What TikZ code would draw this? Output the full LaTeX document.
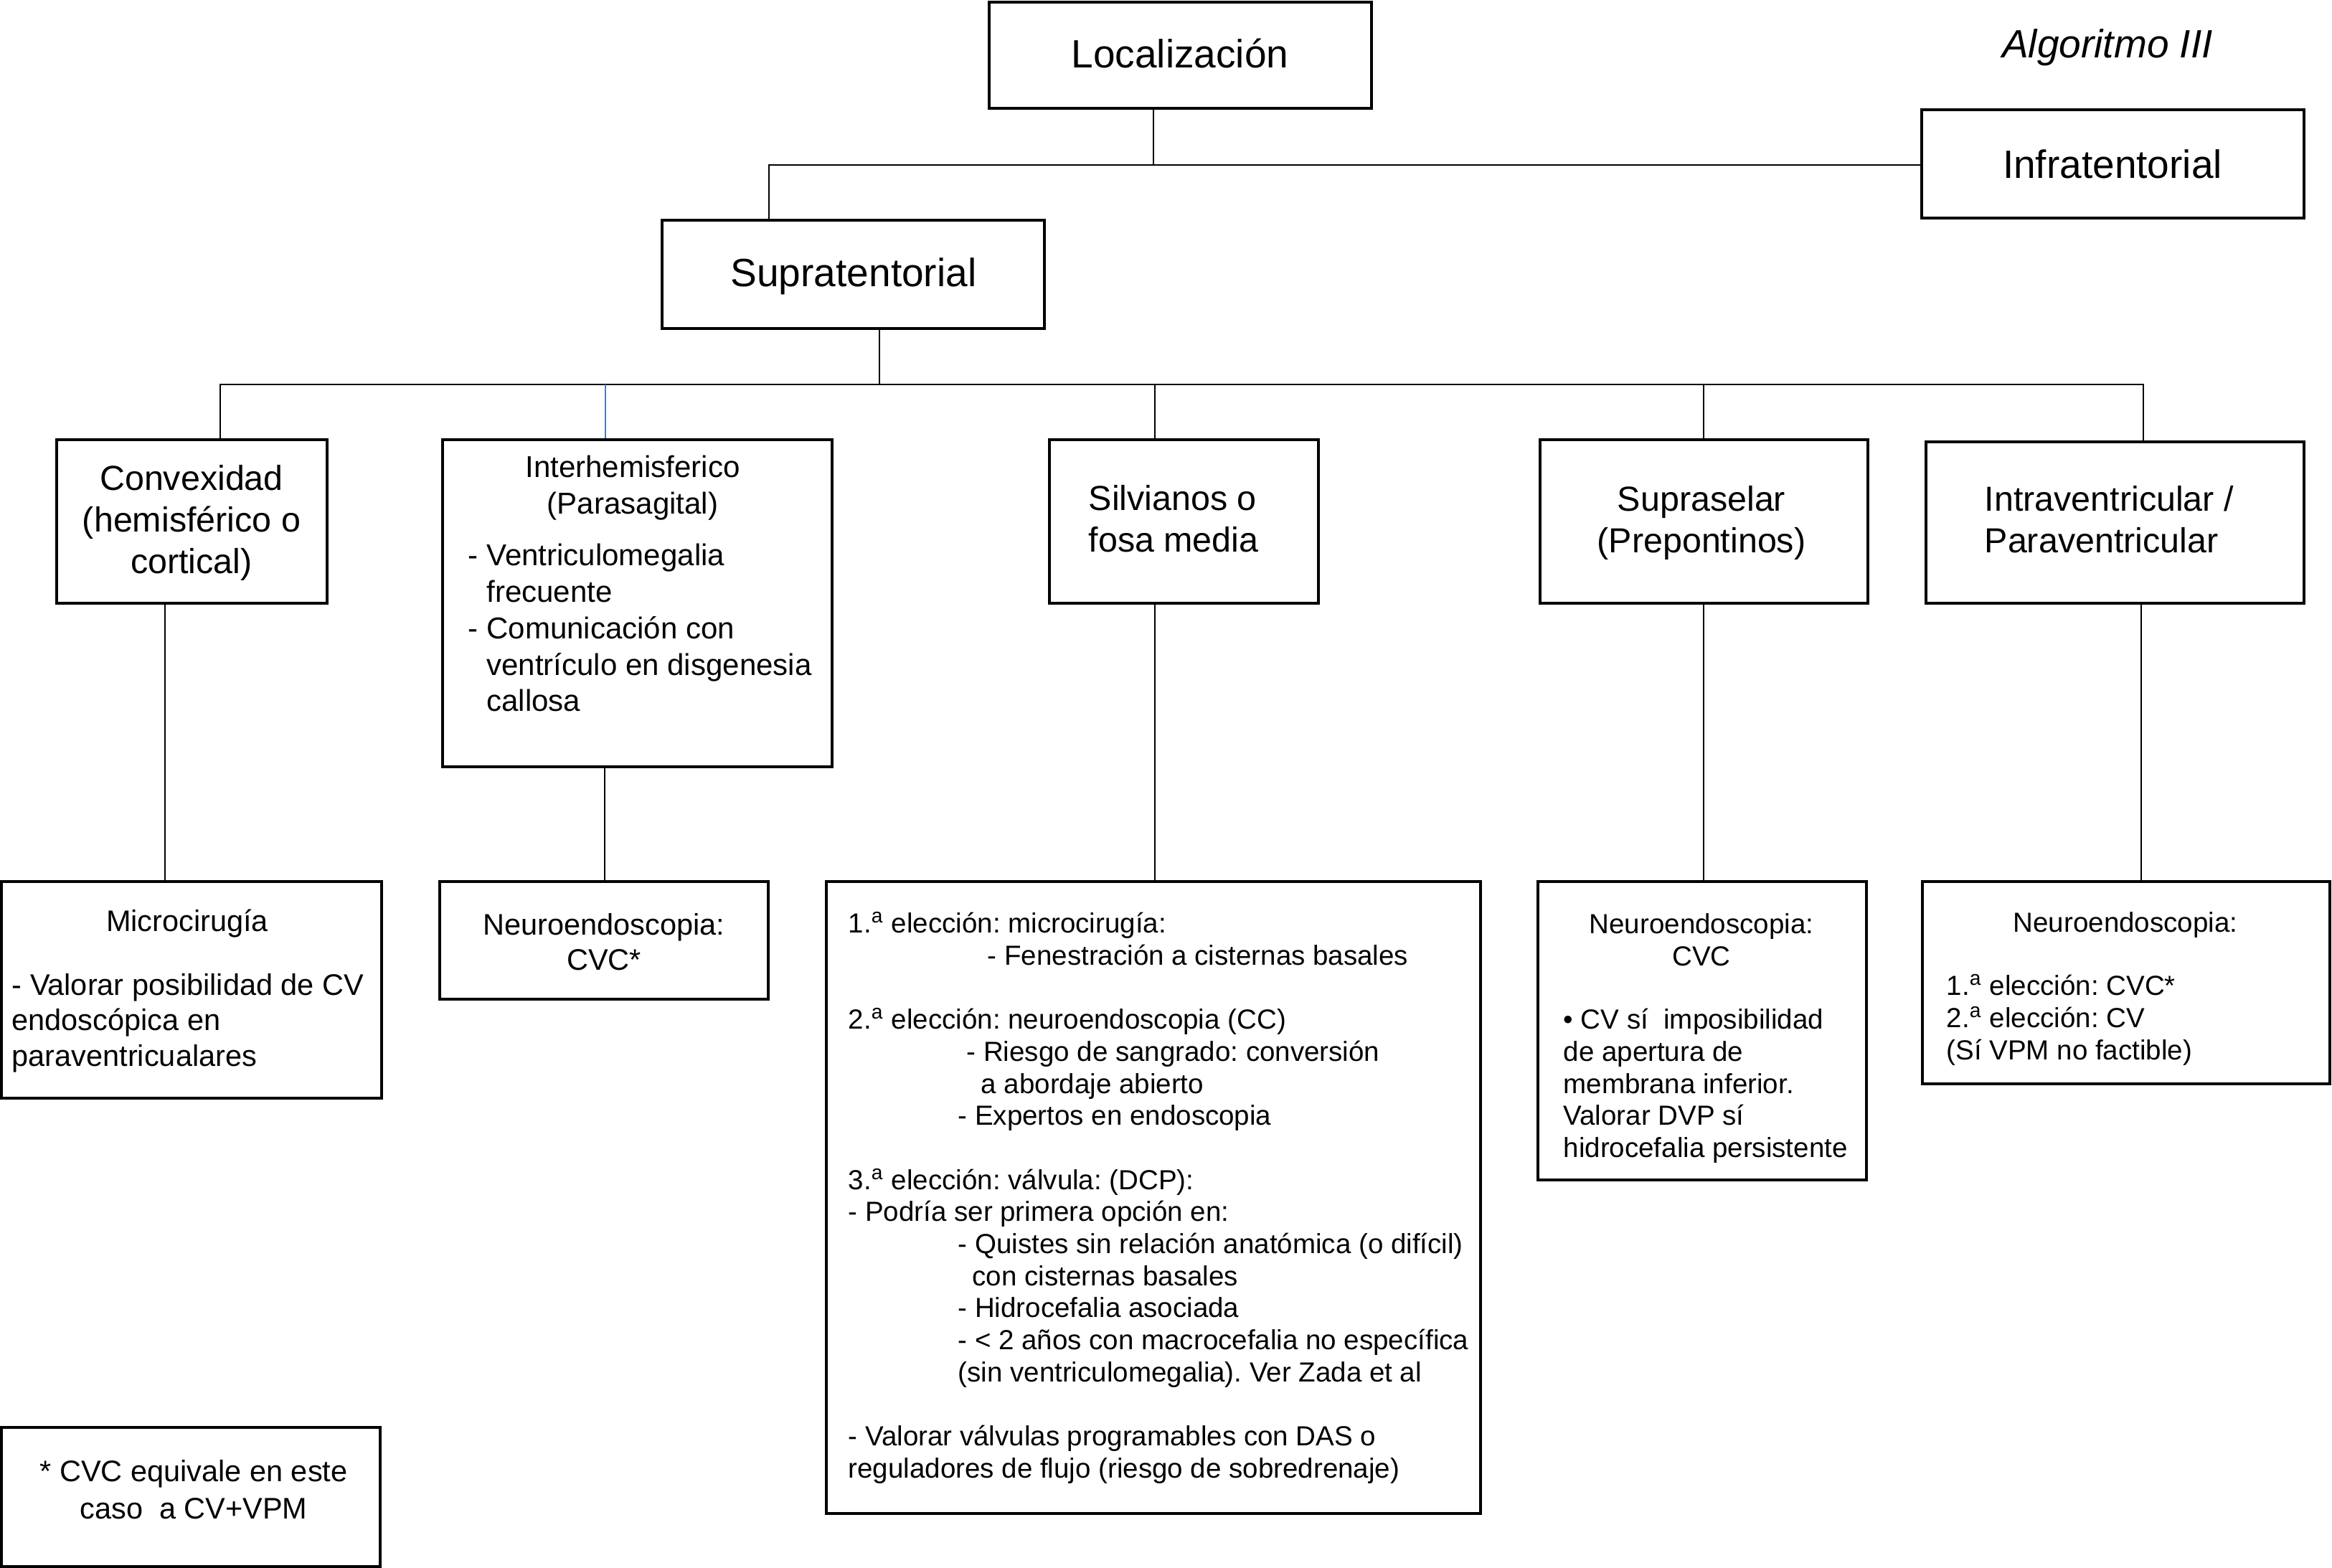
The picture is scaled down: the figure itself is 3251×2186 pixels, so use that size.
\documentclass[tikz,border=0pt]{standalone}
\usepackage{fontspec}
\setmainfont{Liberation Sans}
\usetikzlibrary{fit}
\definecolor{linkblue}{RGB}{74,126,187}
\tikzset{
  box/.style={draw=black, line width=1pt, inner sep=0pt},
  conn/.style={draw=black, line width=0.8pt},
  bconn/.style={draw=linkblue, line width=0.6pt},
  txt/.style={inner sep=0pt},
  fA/.style={font=\fontsize{15.65}{18.8}\selectfont},
  fB/.style={font=\fontsize{13.77}{16.5}\selectfont},
  fC/.style={font=\fontsize{11.95}{14.5}\selectfont},
  fD/.style={font=\fontsize{11.8}{14.1}\selectfont},
  fE/.style={font=\fontsize{10.95}{12.7}\selectfont},
}
\begin{document}
\frenchspacing
\begin{tikzpicture}[x=0.01cm,y=-0.01cm]
\useasboundingbox (0,0) rectangle (3251,2186);

% ---- top level
\node[box, fit={(1379,3) (1912,151)}] (loc) {};
\node[txt, fA] (locT) at (1645,75) {Localización};
\node[txt, font=\fontsize{15.65}{18.8}\selectfont\itshape] (algo) at (2938,66) {Algoritmo III};
\node[box, fit={(2679,153) (3212,304)}] (infra) {};
\node[txt, fA] (infraT) at (2945,229) {Infratentorial};
\node[box, fit={(923,307) (1456,458)}] (supt) {};
\node[txt, fA] (suptT) at (1190,385) {Supratentorial};

\coordinate (j1) at (1608,230);
\coordinate (j0) at (1072,230);
\draw[conn] (loc.south -| j1) -- (j1);
\draw[conn] (supt.north -| j0) -- (j0) -- (j0 -| infra.west);

% ---- second level boxes
\node[box, fit={(79,613) (456,841)}] (conv) {};
\node[box, fit={(617,613) (1160,1069)}] (inter) {};
\node[box, fit={(1463,613) (1838,841)}] (silv) {};
\node[box, fit={(2147,613) (2604,841)}] (supl) {};
\node[box, fit={(2685,616) (3212,841)}] (intrav) {};

\node[txt, fB, align=center] (convT) at (267,729) {Convexidad\\(hemisférico o\\cortical)};
\node[txt, fC, align=center] (interT) at (882,680) {Interhemisferico\\(Parasagital)};
\node[txt, fC, align=left, anchor=west] (interB) at (652,875) {- Ventriculomegalia\\\phantom{- }frecuente\\- Comunicación con\\\phantom{- }ventrículo en disgenesia\\\phantom{- }callosa};
\node[txt, fB, align=left, anchor=west] (silvT) at (1517,723) {Silvianos o\\fosa media};
\node[txt, fB, align=center] (suplT) at (2372,729) {Supraselar\\(Prepontinos)};
\node[txt, fB, align=left, anchor=west] (intravT) at (2766,724) {Intraventricular /\\Paraventricular};

% bus
\coordinate (j2) at (1226,536);
\coordinate (b1) at (307,536);
\coordinate (b2) at (844,536);
\coordinate (b3) at (1610,536);
\coordinate (b4) at (2375,536);
\coordinate (b5) at (2988,536);
\draw[conn] (supt.south -| j2) -- (j2);
\draw[conn] (conv.north -| b1) -- (b1) -- (b5) -- (intrav.north -| b5);
\draw[bconn] (b2) -- (inter.north -| b2);
\draw[conn] (b3) -- (silv.north -| b3);
\draw[conn] (b4) -- (supl.north -| b4);

% ---- third level boxes
\node[box, fit={(2,1229) (532,1531)}] (micro) {};
\node[box, fit={(613,1229) (1071,1393)}] (neuA) {};
\node[box, fit={(1152,1229) (2064,2110)}] (silvB) {};
\node[box, fit={(2144,1229) (2602,1645)}] (suplB) {};
\node[box, fit={(2680,1229) (3248,1511)}] (intrB) {};
\node[box, fit={(2,1990) (530,2184)}] (foot) {};

\node[txt, fD, align=center] (neuAT) at (842,1313) {Neuroendoscopia:\\CVC*};

\node[txt, fD] (microT) at (261,1288) {Microcirugía};
\node[txt, fD, align=left, anchor=west] (microB) at (16,1426) {- Valorar posibilidad de CV\\endoscópica en\\paraventricualares};

\node[txt, fE, align=left, anchor=west] (silvBT) at (1182,1670) {1.\textsuperscript{a} elección: microcirugía:\\
\hspace*{55.2pt}- Fenestración a cisternas basales\\[12.7pt]
2.\textsuperscript{a} elección: neuroendoscopia (CC)\\
\hspace*{46.9pt}- Riesgo de sangrado: conversión\\
\hspace*{52.6pt}a abordaje abierto\\
\hspace*{43.5pt}- Expertos en endoscopia\\[12.7pt]
3.\textsuperscript{a} elección: válvula: (DCP):\\
- Podría ser primera opción en:\\
\hspace*{43.5pt}- Quistes sin relación anatómica (o difícil)\\
\hspace*{49.2pt}con cisternas basales\\
\hspace*{43.5pt}- Hidrocefalia asociada\\
\hspace*{43.5pt}- < 2 años con macrocefalia no específica\\
\hspace*{43.5pt}(sin ventriculomegalia). Ver Zada et al\\[12.7pt]
- Valorar válvulas programables con DAS o\\
reguladores de flujo (riesgo de sobredrenaje)};

\node[txt, fE, align=center] (suplBT) at (2372,1310) {Neuroendoscopia:\\CVC};
\node[txt, fE, align=left, anchor=west] (suplBB) at (2179,1514) {• CV sí\ \ imposibilidad\\de apertura de\\membrana inferior.\\Valorar DVP sí\\hidrocefalia persistente};

\node[txt, fE] (intrBT) at (2963,1290) {Neuroendoscopia:};
\node[txt, fE, align=left, anchor=west] (intrBB) at (2713,1422) {1.\textsuperscript{a} elección: CVC*\\2.\textsuperscript{a} elección: CV\\(Sí VPM no factible)};

\node[txt, font=\fontsize{11.8}{14.8}\selectfont, align=center] (footT) at (270,2077) {* CVC equivale en este\\caso\ \ a CV+VPM};

% ---- connectors to third level
\coordinate (d1) at (230,0);
\coordinate (d2) at (843,0);
\coordinate (d3) at (1610,0);
\coordinate (d4) at (2375,0);
\coordinate (d5) at (2985,0);
\draw[conn] (conv.south -| d1) -- (micro.north -| d1);
\draw[conn] (inter.south -| d2) -- (neuA.north -| d2);
\draw[conn] (silv.south -| d3) -- (silvB.north -| d3);
\draw[conn] (supl.south -| d4) -- (suplB.north -| d4);
\draw[conn] (intrav.south -| d5) -- (intrB.north -| d5);
\end{tikzpicture}
\end{document}
